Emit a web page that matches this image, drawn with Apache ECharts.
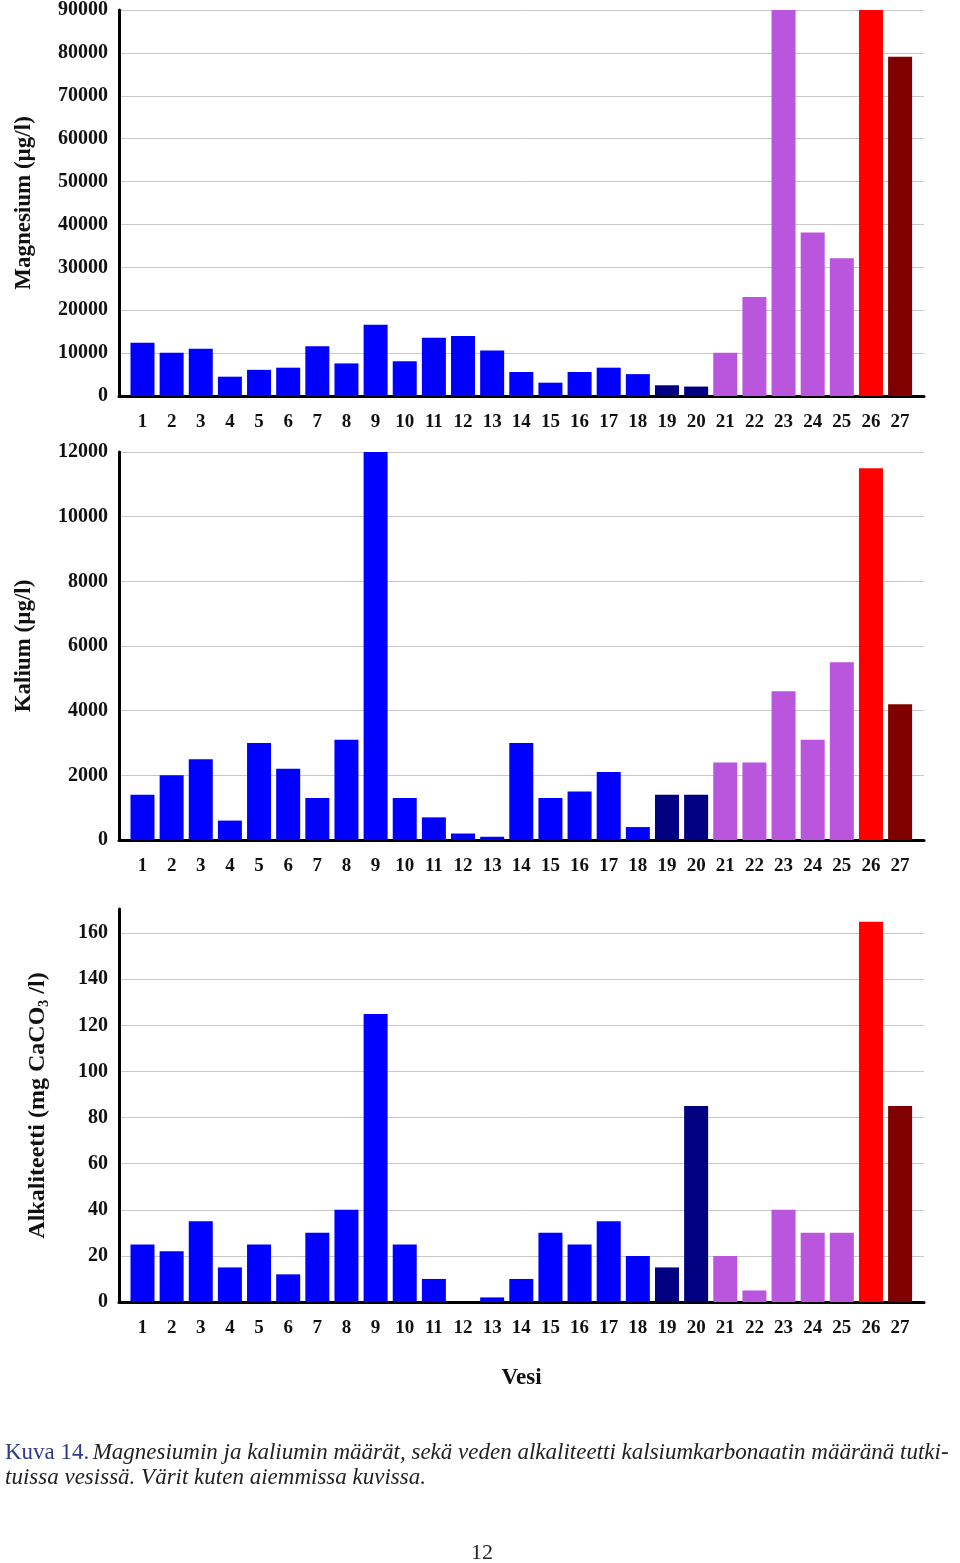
<!DOCTYPE html>
<html>
<head>
<meta charset="utf-8">
<script src="https://cdn.jsdelivr.net/npm/echarts@6/dist/echarts.min.js"></script>
<style>
html,body{margin:0;padding:0;background:#fff;}
#chart{width:960px;height:1563px;}
</style>
</head>
<body>
<div id="chart"></div>
<script>
const categories = ['1','2','3','4','5','6','7','8','9','10','11','12','13','14','15','16','17','18','19','20','21','22','23','24','25','26','27'];
const groups = ['b','b','b','b','b','b','b','b','b','b','b','b','b','b','b','b','b','b','n','n','p','p','p','p','p','r','d'];
const magnesium = [12400, 10100, 11000, 4500, 6100, 6600, 11600, 7600, 16600, 8100, 13600, 14000, 10600, 5600, 3100, 5600, 6600, 5100, 2500, 2200, 10100, 23100, 90000, 38100, 32100, 90000, 79100];
const kalium = [1400, 2000, 2500, 600, 3000, 2200, 1300, 3100, 12000, 1300, 700, 200, 100, 3000, 1300, 1500, 2100, 400, 1400, 1400, 2400, 2400, 4600, 3100, 5500, 11500, 4200];
const alkaliteetti = [25, 22, 35, 15, 25, 12, 30, 40, 125, 25, 10, 0, 2, 10, 30, 25, 35, 20, 15, 85, 20, 5, 40, 30, 30, 165, 85];
const magTicks = [0, 10000, 20000, 30000, 40000, 50000, 60000, 70000, 80000, 90000];
const kalTicks = [0, 2000, 4000, 6000, 8000, 10000, 12000];
const alkTicks = [0, 20, 40, 60, 80, 100, 120, 140, 160];

const palette = {b:'#0000ff', n:'#000080', p:'#ba55dd', r:'#ff0000', d:'#800000'};
const FONT = 'Liberation Serif';
const positions = categories.map((c, i) => i + 1);

const chart = echarts.init(document.getElementById('chart'), null, {renderer:'canvas'});

function mkData(vals){
  return vals.map((v, i) => ({value:[positions[i], v], itemStyle:{color: palette[groups[i]]}}));
}
const gridDefs = [
  {left:119, right:36, top:7, height:389},
  {left:119, right:36, top:452, height:388},
  {left:119, right:36, top:909, height:393}
];
const names = [
  {text:'Magnesium (µg/l)', gap:83, size:23},
  {text:'Kalium (µg/l)', gap:83, size:23},
  {text:'Alkaliteetti (mg CaCO{sub|3} /l)', gap:68, size:24}
];
const yMax = [90000, 12000, 170.5];
const yTicks = [magTicks, kalTicks, alkTicks];
const series = [magnesium, kalium, alkaliteetti];

const option = {
  animation:false,
  backgroundColor:'#fff',
  grid: gridDefs,
  xAxis: gridDefs.map((g, k) => ({
    type:'value', gridIndex:k, min:0.194, max:27.82,
    axisLine:{show:true, onZero:false, lineStyle:{color:'#000', width:3}},
    axisTick:{show:false, customValues: positions},
    splitLine:{show:false},
    axisLabel:{customValues: positions, formatter:(v) => categories[v-1], fontFamily:FONT, fontWeight:'bold', fontSize:19, color:'#111', margin:17},
    name: k === 2 ? 'Vesi' : '',
    nameLocation:'middle', nameGap:65,
    nameTextStyle:{fontFamily:FONT, fontWeight:'bold', fontSize:23, color:'#111'}
  })),
  yAxis: gridDefs.map((g, k) => ({
    type:'value', gridIndex:k, min:0, max:yMax[k],
    axisLine:{show:true, lineStyle:{color:'#000', width:3}},
    axisTick:{show:false, customValues: yTicks[k]},
    axisLabel:{customValues: yTicks[k], formatter:(v) => String(v), fontFamily:FONT, fontWeight:'bold', fontSize:20, color:'#111', margin:11},
    splitLine:{show:true, lineStyle:{color:'#c8c8c8', width:1}},
    name: names[k].text, nameLocation:'middle', nameRotate:90, nameGap:names[k].gap,
    nameTextStyle:{fontFamily:FONT, fontWeight:'bold', fontSize:names[k].size, color:'#111',
      rich:{sub:{fontFamily:FONT, fontWeight:'bold', fontSize:14, color:'#111', padding:[12,0,0,0]}}}
  })),
  series: series.map((vals, k) => ({
    type:'bar', xAxisIndex:k, yAxisIndex:k, barWidth:24, clip:true,
    data: mkData(vals)
  })),
  graphic:[
    {type:'text', left:5, top:1441, style:{
      text:'{a|Kuva 14.} {b|Magnesiumin ja kaliumin määrät, sekä veden alkaliteetti kalsiumkarbonaatin määränä tutki-}',
      rich:{a:{fontFamily:FONT, fontSize:23, fill:'#2e3b8c'}, b:{fontFamily:FONT, fontStyle:'italic', fontSize:23, fill:'#222'}}
    }},
    {type:'text', left:5, top:1466, style:{
      text:'tuissa vesissä. Värit kuten aiemmissa kuvissa.', fontFamily:FONT, fontStyle:'italic', fontSize:23, fill:'#222'
    }},
    {type:'text', left:471, top:1542, style:{text:'12', fontFamily:FONT, fontSize:22, fill:'#222'}}
  ]
};
chart.setOption(option);
</script>
</body>
</html>
